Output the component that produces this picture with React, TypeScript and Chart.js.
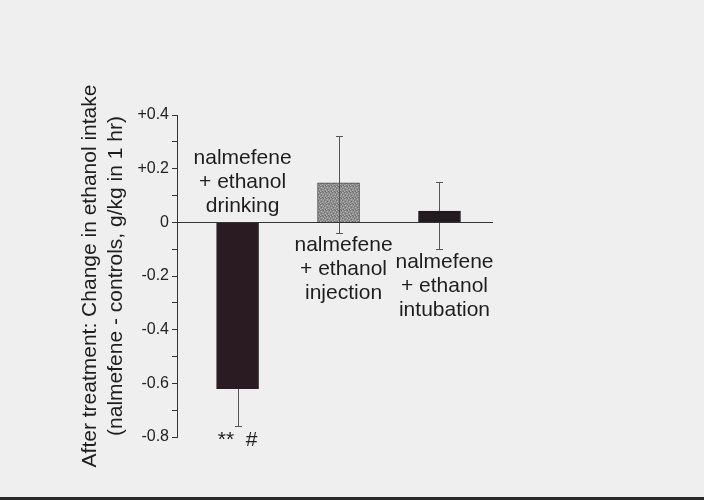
import React, { useEffect, useRef } from 'react';
import { Chart, registerables } from 'chart.js';

Chart.register(...registerables);

// ---- data ----
const categories = ['drinking', 'injection', 'intubation'];
const barLabels = [
  ['nalmefene', '+ ethanol', 'drinking'],
  ['nalmefene', '+ ethanol', 'injection'],
  ['nalmefene', '+ ethanol', 'intubation'],
];
const changeValues = [-0.62, 0.147, 0.042];
const errorUp = [0.14, 0.175, 0.108];
const errorDown = [0.14, 0.188, 0.142];
const labelFirstLineValues = [0.239, -0.086, -0.149];
const significance = ['**  #', '', ''];
const majorTicks = [0.4, 0.2, 0, -0.2, -0.4, -0.6, -0.8];
const tickLabels = ['+0.4', '+0.2', '0', '-0.2', '-0.4', '-0.6', '-0.8'];
const yTitle = ['After treatment: Change in ethanol intake', '(nalmefene - controls, g/kg in 1 hr)'];

const FONT = '"Liberation Sans", Arial, sans-serif';

function makeStipple(): CanvasPattern | string {
  const c = document.createElement('canvas');
  c.width = 6;
  c.height = 6;
  const g = c.getContext('2d');
  if (!g) return '#909090';
  g.fillStyle = '#8e8e8e';
  g.fillRect(0, 0, 6, 6);
  const light = [[0, 0], [3, 1], [1, 3], [4, 4], [5, 2], [2, 5]];
  const dark = [[2, 0], [5, 0], [0, 2], [3, 3], [1, 5], [4, 5]];
  g.fillStyle = '#b4b4b4';
  light.forEach(([x, y]) => g.fillRect(x, y, 1, 1));
  g.fillStyle = '#6c6c6c';
  dark.forEach(([x, y]) => g.fillRect(x, y, 1, 1));
  const p = g.createPattern(c, 'repeat');
  return p || '#909090';
}

const overlayPlugin = {
  id: 'overlay',
  afterDatasetsDraw(chart: any) {
    const { ctx, chartArea, scales } = chart;
    const x = scales.x;
    const y = scales.y;
    ctx.save();
    // zero line
    const y0 = Math.round(y.getPixelForValue(0)) + 0.5;
    ctx.strokeStyle = '#333';
    ctx.lineWidth = 1;
    ctx.beginPath();
    ctx.moveTo(chartArea.left, y0);
    ctx.lineTo(chartArea.right, y0);
    ctx.stroke();
    // error bars
    ctx.globalCompositeOperation = 'darken';
    ctx.strokeStyle = '#555';
    changeValues.forEach((v, i) => {
      const px = Math.round(x.getPixelForValue(i + 1)) + 0.5;
      const top = Math.round(y.getPixelForValue(v + errorUp[i])) + 0.5;
      const bot = Math.round(y.getPixelForValue(v - errorDown[i])) + 0.5;
      ctx.beginPath();
      ctx.moveTo(px, top);
      ctx.lineTo(px, bot);
      ctx.moveTo(px - 3.5, top);
      ctx.lineTo(px + 3.5, top);
      ctx.moveTo(px - 3.5, bot);
      ctx.lineTo(px + 3.5, bot);
      ctx.stroke();
    });
    ctx.globalCompositeOperation = 'source-over';
    // labels
    ctx.font = `21px ${FONT}`;
    ctx.fillStyle = '#1e1e1e';
    ctx.textAlign = 'center';
    ctx.textBaseline = 'middle';
    barLabels.forEach((lines, i) => {
      const cx = x.getPixelForValue(i + 1) + 5;
      const y1 = y.getPixelForValue(labelFirstLineValues[i]);
      lines.forEach((t, j) => ctx.fillText(t, cx, y1 + j * 24));
    });
    significance.forEach((s, i) => {
      if (!s) return;
      const cx = x.getPixelForValue(i + 1);
      const by = y.getPixelForValue(changeValues[i] - errorDown[i]) + 14;
      ctx.fillText(s, cx, by);
    });
    ctx.restore();
  },
};

export default function App() {
  const ref = useRef<HTMLCanvasElement | null>(null);

  useEffect(() => {
    if (!ref.current) return;
    const stipple = makeStipple();
    const chart = new Chart(ref.current, {
      type: 'bar',
      data: {
        datasets: [
          {
            label: 'Change in ethanol intake',
            data: changeValues.map((v, i) => ({ x: i + 1, y: v, c: categories[i] })) as any,
            backgroundColor: ['#2a1b22', stipple as any, '#221a1f'],
            borderColor: ['#2a1b22', '#4a4a4a', '#221a1f'],
            borderWidth: 1,
            barThickness: 42,
          },
        ],
      },
      options: {
        animation: false,
        responsive: false,
        maintainAspectRatio: false,
        devicePixelRatio: 1,
        layout: { padding: { top: 115, bottom: 63, left: 0, right: 211 } },
        plugins: { legend: { display: false }, tooltip: { enabled: false } },
        scales: {
          x: {
            type: 'linear',
            display: false,
            offset: false,
            min: 0.4,
            max: 3.53,
          },
          y: {
            min: -0.8,
            max: 0.4,
            afterFit: (s: any) => {
              s.width = 177;
            },
            border: { display: true, color: '#333', width: 1 },
            grid: { drawOnChartArea: false, drawTicks: true, tickLength: 5, color: '#333' },
            ticks: {
              stepSize: 0.1,
              padding: 3,
              color: '#222',
              font: { family: FONT, size: 16 },
              callback: (v: any) => {
                const k = Math.round(Number(v) * 10);
                if (k % 2 !== 0) return '';
                const idx = majorTicks.findIndex((t) => Math.round(t * 10) === k);
                return idx >= 0 ? tickLabels[idx] : '';
              },
            },
            title: {
              display: true,
              text: yTitle,
              color: '#1e1e1e',
              font: { family: FONT, size: 21, lineHeight: 1.2 },
              padding: { top: 78, bottom: 0 },
            },
          },
        },
      },
      plugins: [overlayPlugin],
    });
    return () => chart.destroy();
  }, []);

  return (
    <div style={{ position: 'fixed', left: 0, top: 0, width: 704, height: 500, background: '#efefef', overflow: 'hidden' }}>
      <canvas ref={ref} width={704} height={500} style={{ display: 'block', width: 704, height: 500 }} />
      <div style={{ position: 'absolute', left: 0, bottom: 0, width: 704, height: 3, background: '#2a2a2a' }} />
    </div>
  );
}
